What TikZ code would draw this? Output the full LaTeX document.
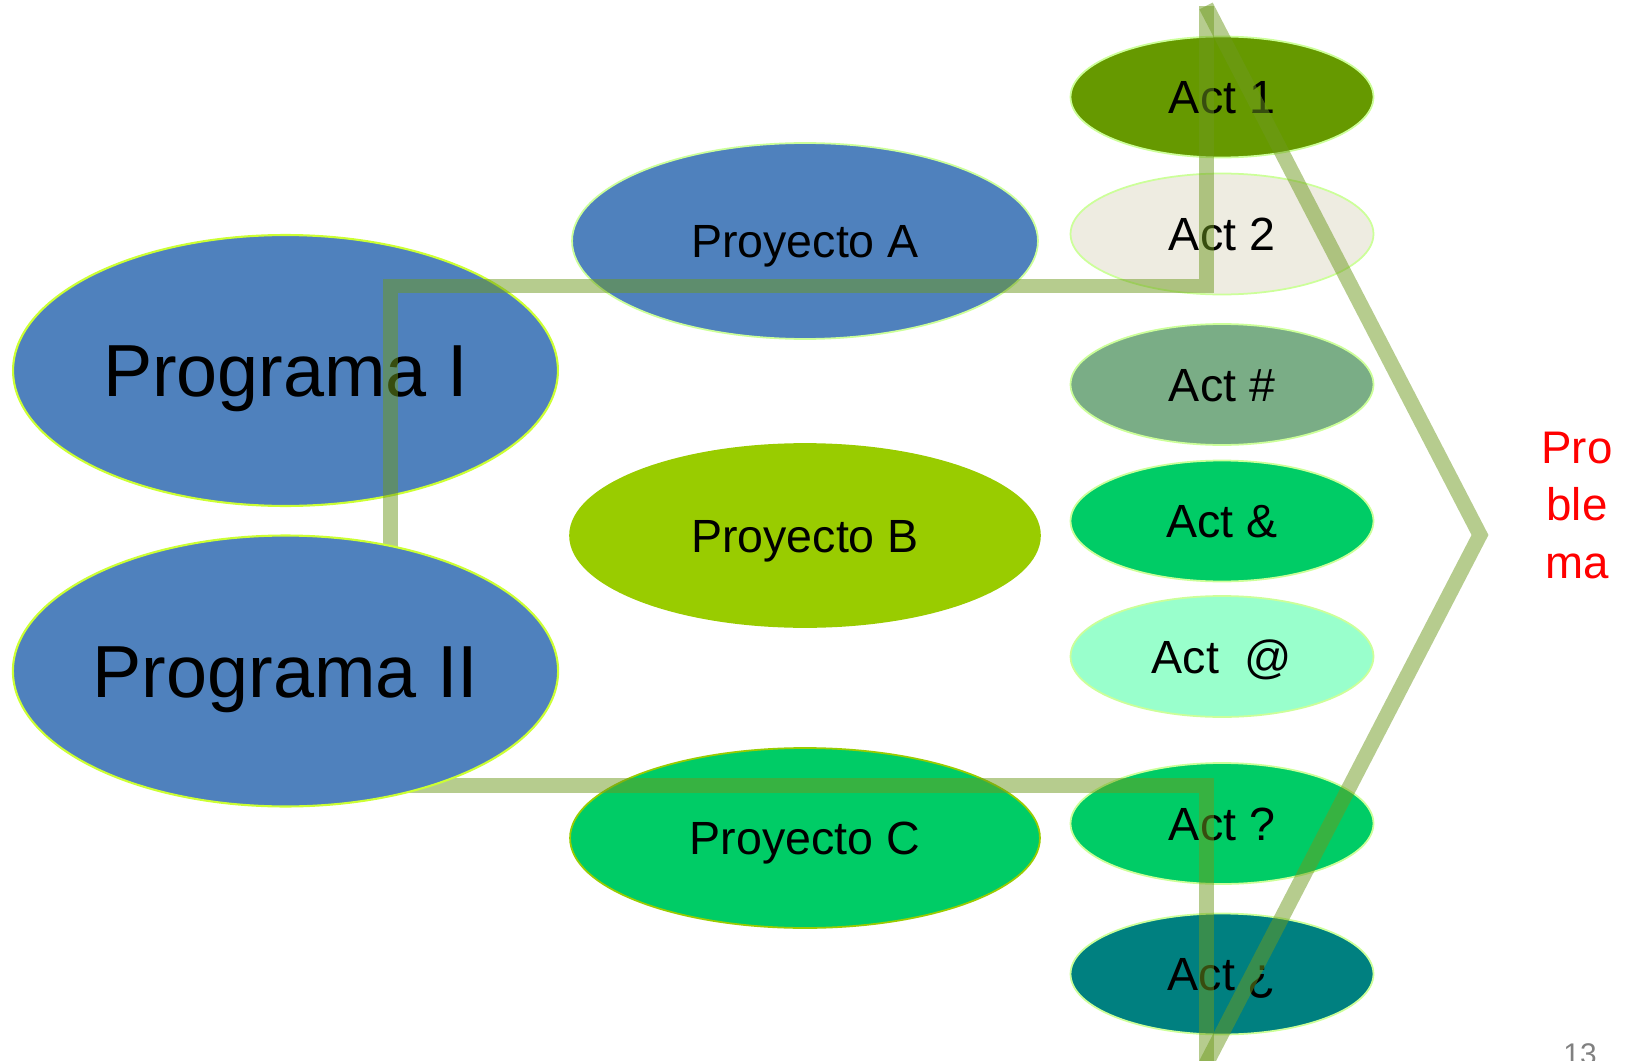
\documentclass[tikz,border=0pt]{standalone}
\usepackage{fontspec}
\setmainfont{Liberation Sans}
\usetikzlibrary{shapes.geometric}
\definecolor{progblue}{HTML}{4F81BD}
\definecolor{progrim}{HTML}{CCFF33}
\definecolor{actrim}{HTML}{CCFF99}
\definecolor{proyB}{HTML}{99CC00}
\definecolor{proyC}{HTML}{00CC66}
\definecolor{actone}{HTML}{669900}
\definecolor{acttwo}{HTML}{EEECE1}
\definecolor{acthash}{HTML}{7AAD86}
\definecolor{actat}{HTML}{99FFCC}
\definecolor{actinv}{HTML}{008080}
\definecolor{hatchgreen}{HTML}{6E9A1E}
\begin{document}
\begin{tikzpicture}[x=0.02cm, y=-0.02cm,
    prog/.style={ellipse, draw=progrim, line width=1.2pt, fill=progblue, minimum width=10.9cm, minimum height=5.42cm, inner sep=0pt, text height=30pt, text depth=0pt, font=\fontsize{42}{50}\selectfont},
    proy/.style={ellipse, line width=1pt, minimum width=9.4cm, minimum height=3.66cm, inner sep=0pt, text height=19pt, text depth=0pt, font=\fontsize{26.5}{32}\selectfont},
    act/.style={ellipse, draw=actrim, line width=1pt, minimum width=6.06cm, minimum height=2.42cm, inner sep=0pt, text height=19pt, text depth=0pt, font=\fontsize{26.5}{32}\selectfont},
    hatch/.style={draw=hatchgreen, opacity=0.5, line width=0.3cm, miter limit=10}]
    \useasboundingbox (0,0) rectangle (1627,1061);
    \node[prog] (prog1) at (285.5,370.5) {Programa I};
    \node[proy, fill=progblue, draw=actrim, minimum width=9.32cm, minimum height=3.92cm] (proyA) at (805,241) {Proyecto A};
    \node[proy, fill=proyB, draw=proyB] (proyB) at (805,535.5) {Proyecto B};
    \node[proy, fill=proyC, draw=proyB, minimum height=3.6cm] (proyC) at (805,838) {Proyecto C};
    \node[act, fill=actone] (act1) at (1222,97) {Act 1};
    \node[act, fill=acttwo] (act2) at (1222,234) {Act 2};
    \node[act, fill=acthash] (act3) at (1222,384.5) {Act \#};
    \node[act, fill=proyC] (act4) at (1222,521) {Act \&};
    \node[act, fill=actat] (act5) at (1222,656.5) {Act\ \ @};
    \node[act, fill=proyC] (act6) at (1222,823.5) {Act ?};
    \node[act, fill=actinv] (act7) at (1222,974) {Act ¿};
    \coordinate (srcA) at (390,600);
    \coordinate (srcC) at (300,785);
    \coordinate (kneeA) at (1206,286);
    \coordinate (kneeC) at (1206,785);
    \coordinate (top) at (1206,6);
    \coordinate (apex) at (1480,535);
    \coordinate (bot) at (1206,1064);
    \draw[hatch] (srcA) |- (kneeA) -- (top);
    \draw[hatch] (srcC) -- (kneeC) -- (bot);
    \draw[hatch] (top) -- (apex) -- (bot);
    \node[prog] (prog2) at (285.5,671) {Programa II};
    \node[text=red, align=center, inner sep=0pt, anchor=base, font=\fontsize{26}{32.6}\selectfont] (probl) at (1577,578) {Pro\\ble\\ma};
    \node[text=gray, inner sep=0pt, anchor=base, font=\fontsize{17}{20}\selectfont] (pagenum) at (1580,1064) {13};
\end{tikzpicture}
\end{document}
